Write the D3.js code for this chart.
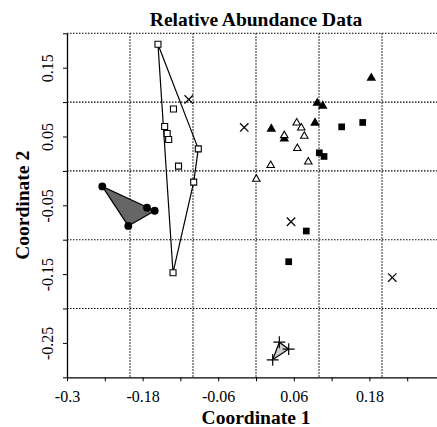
<!DOCTYPE html>
<html>
<head>
<meta charset="utf-8">
<script src="https://cdn.jsdelivr.net/npm/d3@7"></script>
<style>
  body { margin: 0; background: #fff; }
  text { font-family: "Liberation Serif", "Times New Roman", serif; }
</style>
</head>
<body>
<div id="chart"></div>
<script>
// coordenadas (Coordinate 1, Coordinate 2)
const openSquares = [
  [-0.1556, 0.184], [-0.131, 0.090], [-0.145, 0.0646], [-0.141, 0.0544],
  [-0.1386, 0.0457], [-0.0916, 0.032], [-0.123, 0.007], [-0.0989, -0.0163],
  [-0.1317, -0.148]
];
const filledCircles = [
  [-0.244, -0.0225], [-0.173, -0.0536], [-0.1608, -0.0579], [-0.2027, -0.080]
];
const plusSigns = [
  [0.037, -0.249], [0.0519, -0.259], [0.0265, -0.2746]
];
const crosses = [
  [-0.1068, 0.1038], [-0.0187, 0.0631], [0.0556, -0.0739], [0.2163, -0.155]
];
const filledSquares = [
  [0.136, 0.064], [0.1694, 0.0704], [0.1005, 0.0263], [0.108, 0.021],
  [0.0798, -0.0874], [0.0519, -0.132]
];
const filledTriangles = [
  [0.183, 0.135], [0.0973, 0.0988], [0.1059, 0.0945], [0.0937, 0.0698],
  [0.0243, 0.0611], [0.0449, 0.0466]
];
const openTriangles = [
  [0.0646, 0.0698], [0.0719, 0.0626], [0.0767, 0.0505], [0.0656, 0.0327],
  [0.083, 0.0132], [0.0233, 0.008], [0.0005, -0.0119], [0.0449, 0.0515]
];

const xTicks = [-0.3, -0.24, -0.18, -0.12, -0.06, 0, 0.06, 0.12, 0.18, 0.24];
const xLabels = ["-0.3", "-0.18", "-0.06", "0.06", "0.18"];
const yTicks = [0.2, 0.15, 0.1, 0.05, 0, -0.05, -0.1, -0.15, -0.2, -0.25, -0.3];
const yLabels = ["0.15", "0.05", "-0.05", "-0.15", "-0.25"];
const xGrid = [-0.2, -0.1, 0, 0.1, 0.2];
const yGrid = [0.2, 0.1, 0, -0.1, -0.2];

const width = 437, height = 427;
const margin = { top: 33.3, right: -8, bottom: 49.7, left: 67 };
const innerWidth = width - margin.left - margin.right;
const innerHeight = height - margin.top - margin.bottom;

const svg = d3.select("#chart").append("svg")
  .attr("width", width).attr("height", height);

const g = svg.append("g")
  .attr("transform", `translate(${margin.left},${margin.top})`);

const x = d3.scaleLinear().domain([-0.3, 0.3]).range([0, innerWidth]);
const y = d3.scaleLinear().domain([-0.3, 0.2]).range([innerHeight, 0]);

// texto de las marcas, solo las que llevan etiqueta
const fmt = labels => d => {
  const s = String(+d.toFixed(2));
  return labels.includes(s) ? s : "";
};

// rejilla punteada
g.selectAll(".vgrid").data(xGrid).enter().append("line")
  .attr("x1", d => x(d)).attr("x2", d => x(d))
  .attr("y1", 0).attr("y2", innerHeight)
  .attr("stroke", "#000").attr("stroke-width", 1.1)
  .attr("stroke-dasharray", "1.5,1.5");
g.selectAll(".hgrid").data(yGrid).enter().append("line")
  .attr("x1", 0).attr("x2", innerWidth)
  .attr("y1", d => y(d)).attr("y2", d => y(d))
  .attr("stroke", "#000").attr("stroke-width", 1.1)
  .attr("stroke-dasharray", "1.5,1.5");

// ejes
const xAxis = d3.axisBottom(x).tickValues(xTicks).tickSize(4).tickSizeOuter(0)
  .tickFormat(fmt(xLabels));
const gx = g.append("g").attr("transform", `translate(0,${innerHeight})`).call(xAxis);
gx.select(".domain").attr("stroke-width", 1.3);
gx.selectAll("text").attr("font-size", 16).attr("fill", "#000").attr("dy", "1.1em");
gx.selectAll("text").filter(function () { return this.textContent === ""; }).remove();

const yAxis = d3.axisLeft(y).tickValues(yTicks).tickSize(4).tickSizeOuter(0)
  .tickFormat(fmt(yLabels));
const gy = g.append("g").call(yAxis);
gy.select(".domain").attr("stroke-width", 1.3);
gy.selectAll("text").attr("font-size", 16).attr("fill", "#000")
  .attr("transform", "rotate(-90)").attr("text-anchor", "middle")
  .attr("x", 0).attr("y", -14).attr("dy", 0);
gy.selectAll("text").filter(function () { return this.textContent === ""; }).remove();

// envolventes convexas
function hull(pts, fill) {
  const h = d3.polygonHull(pts.map(p => [x(p[0]), y(p[1])]));
  g.append("path")
    .attr("d", "M" + h.join("L") + "Z")
    .attr("fill", fill).attr("stroke", "#000").attr("stroke-width", 1.2);
}
hull(openSquares, "none");
hull(filledCircles, "#666");
hull(plusSigns, "#ccc");

// simbolos
function points(data, type, size, fill, stroke, sw) {
  g.selectAll(null).data(data).enter().append("path")
    .attr("transform", d => `translate(${x(d[0])},${y(d[1])})`)
    .attr("d", d3.symbol().type(type).size(size))
    .attr("fill", fill).attr("stroke", stroke).attr("stroke-width", sw);
}
points(openSquares, d3.symbolSquare, 36, "#fff", "#000", 1.1);
points(filledCircles, d3.symbolCircle, 48, "#000", "none", 0);
points(plusSigns, d3.symbolPlus, 48, "none", "#000", 1.2);
points(crosses, d3.symbolTimes, 48, "none", "#000", 1.2);
points(filledSquares, d3.symbolSquare, 45, "#000", "none", 0);
points(filledTriangles, d3.symbolTriangle, 40, "#000", "none", 0);
points(openTriangles, d3.symbolTriangle2, 40, "#fff", "#000", 1.1);

// titulos
svg.append("text").attr("x", margin.left + x(0)).attr("y", 26)
  .attr("text-anchor", "middle").attr("font-size", 19.5).attr("font-weight", "bold")
  .text("Relative Abundance Data");
svg.append("text").attr("x", margin.left + x(0)).attr("y", 424)
  .attr("text-anchor", "middle").attr("font-size", 19.5).attr("font-weight", "bold")
  .text("Coordinate 1");
svg.append("text")
  .attr("transform", `translate(29,${margin.top + innerHeight / 2}) rotate(-90)`)
  .attr("text-anchor", "middle").attr("font-size", 19.5).attr("font-weight", "bold")
  .text("Coordinate 2");
</script>
</body>
</html>
